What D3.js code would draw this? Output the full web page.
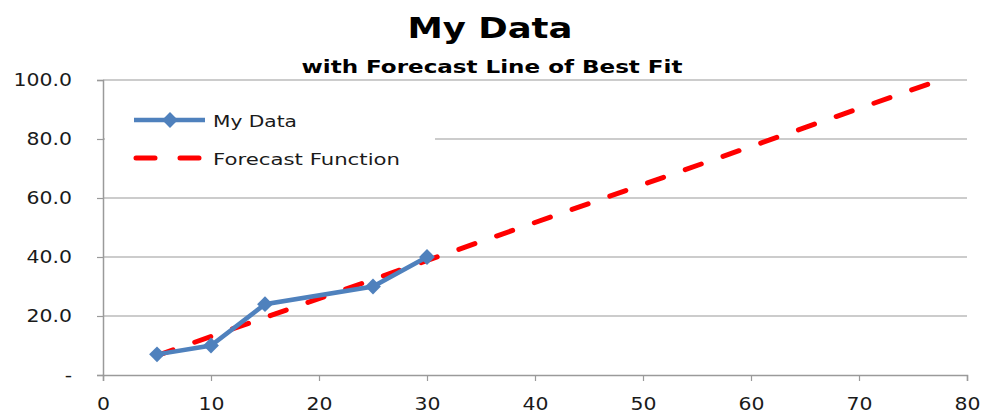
<!DOCTYPE html>
<html>
<head>
<meta charset="utf-8">
<script src="https://cdn.jsdelivr.net/npm/d3@7"></script>
<style>
  html, body { margin: 0; padding: 0; background: #fff; }
  svg { display: block; }
</style>
</head>
<body>
<svg id="chart" width="983" height="416"></svg>
<script>
// Observed series
const dataX = [5, 10, 15, 25, 30];
const dataY = [7, 10, 24, 30, 40];

// Forecast (best-fit) line end points
const forecastX = [5, 77.5];
const forecastY = [6.6, 100];

// Axis ticks
const xTicks = [0, 10, 20, 30, 40, 50, 60, 70, 80];
const yTicks = [0, 20, 40, 60, 80, 100];

const svg = d3.select("#chart");
const margin = { left: 103, right: 16, top: 80, bottom: 41 };
const W = 983, H = 416;

const x = d3.scaleLinear().domain([0, 80]).range([margin.left, W - margin.right]);
const y = d3.scaleLinear().domain([0, 100]).range([H - margin.bottom, margin.top]);

const gridColor = "#9a9a9a";
const font = "'DejaVu Sans', Verdana, sans-serif";
const WIDEN = 1.2;

// Widen text glyphs horizontally, keeping the anchor
function widen(sel, k = WIDEN) {
  sel.each(function () {
    const w = this.getComputedTextLength();
    d3.select(this)
      .attr("textLength", w * k)
      .attr("lengthAdjust", "spacingAndGlyphs");
  });
}

// Horizontal gridlines
svg.append("g")
  .selectAll("line")
  .data(yTicks.filter(d => d > 0))
  .join("line")
  .attr("x1", x(0)).attr("x2", x(80))
  .attr("y1", d => y(d)).attr("y2", d => y(d))
  .attr("stroke", gridColor).attr("stroke-width", 1.2);

// Y axis
const yAxis = svg.append("g")
  .attr("transform", `translate(${x(0)},0)`)
  .call(d3.axisLeft(y).tickValues(yTicks).tickSize(6).tickPadding(25)
    .tickFormat(d => d === 0 ? "-" : d3.format(".1f")(d)));
yAxis.select(".domain").attr("stroke", gridColor).attr("stroke-width", 1.5);
yAxis.selectAll(".tick line").attr("stroke", gridColor).attr("stroke-width", 1.2);
yAxis.selectAll(".tick text").attr("font-family", font).attr("font-size", 17)
  .attr("fill", "#1a1a1a").call(widen);

// X axis
const xAxis = svg.append("g")
  .attr("transform", `translate(0,${y(0)})`)
  .call(d3.axisBottom(x).tickValues(xTicks).tickSize(6).tickPadding(17));
xAxis.select(".domain").attr("stroke", gridColor).attr("stroke-width", 1.5);
xAxis.selectAll(".tick line").attr("stroke", gridColor).attr("stroke-width", 1.2);
xAxis.selectAll(".tick text").attr("font-family", font).attr("font-size", 17)
  .attr("fill", "#1a1a1a").call(widen);

// Legend background
const legend = svg.append("g");
legend.append("rect")
  .attr("x", x(0) + 2).attr("y", 100).attr("width", 330).attr("height", 78)
  .attr("fill", "#fff");

// Forecast line
const fPts = forecastX.map((d, i) => [d, forecastY[i]]);
svg.append("path")
  .datum(fPts)
  .attr("d", d3.line().x(d => x(d[0])).y(d => y(d[1])))
  .attr("fill", "none")
  .attr("stroke", "#ff0000")
  .attr("stroke-width", 5)
  .attr("stroke-linecap", "round")
  .attr("stroke-dasharray", "17 23");

// Data line
const pts = dataX.map((d, i) => [d, dataY[i]]);
svg.append("path")
  .datum(pts)
  .attr("d", d3.line().x(d => x(d[0])).y(d => y(d[1])))
  .attr("fill", "none")
  .attr("stroke", "#4f81bd")
  .attr("stroke-width", 4.5);

const diamond = d3.symbol().type(d3.symbolSquare).size(125);
svg.append("g")
  .selectAll("path")
  .data(pts)
  .join("path")
  .attr("transform", d => `translate(${x(d[0])},${y(d[1])}) rotate(45)`)
  .attr("d", diamond)
  .attr("fill", "#4f81bd");

// Legend entries
legend.append("line")
  .attr("x1", 134).attr("x2", 205).attr("y1", 120).attr("y2", 120)
  .attr("stroke", "#4f81bd").attr("stroke-width", 4.5);
legend.append("path")
  .attr("transform", "translate(170,120) rotate(45)")
  .attr("d", diamond).attr("fill", "#4f81bd");
legend.append("text")
  .attr("x", 213).attr("y", 127)
  .attr("font-family", font).attr("font-size", 16.5).attr("fill", "#1a1a1a")
  .text("My Data")
  .attr("textLength", 84).attr("lengthAdjust", "spacingAndGlyphs");

legend.append("line")
  .attr("x1", 136).attr("x2", 200).attr("y1", 158).attr("y2", 158)
  .attr("stroke", "#ff0000").attr("stroke-width", 5)
  .attr("stroke-linecap", "round").attr("stroke-dasharray", "19 25");
legend.append("text")
  .attr("x", 213).attr("y", 165)
  .attr("font-family", font).attr("font-size", 16.5).attr("fill", "#1a1a1a")
  .text("Forecast Function")
  .attr("textLength", 187).attr("lengthAdjust", "spacingAndGlyphs");

// Titles
svg.append("text")
  .attr("x", 490).attr("y", 38)
  .attr("text-anchor", "middle")
  .attr("font-family", font).attr("font-weight", "bold").attr("font-size", 29)
  .attr("fill", "#000")
  .text("My Data")
  .attr("textLength", 165).attr("lengthAdjust", "spacingAndGlyphs");
svg.append("text")
  .attr("x", 492).attr("y", 73)
  .attr("text-anchor", "middle")
  .attr("font-family", font).attr("font-weight", "bold").attr("font-size", 18)
  .attr("fill", "#000")
  .text("with Forecast Line of Best Fit")
  .attr("textLength", 381).attr("lengthAdjust", "spacingAndGlyphs");
</script>
</body>
</html>
